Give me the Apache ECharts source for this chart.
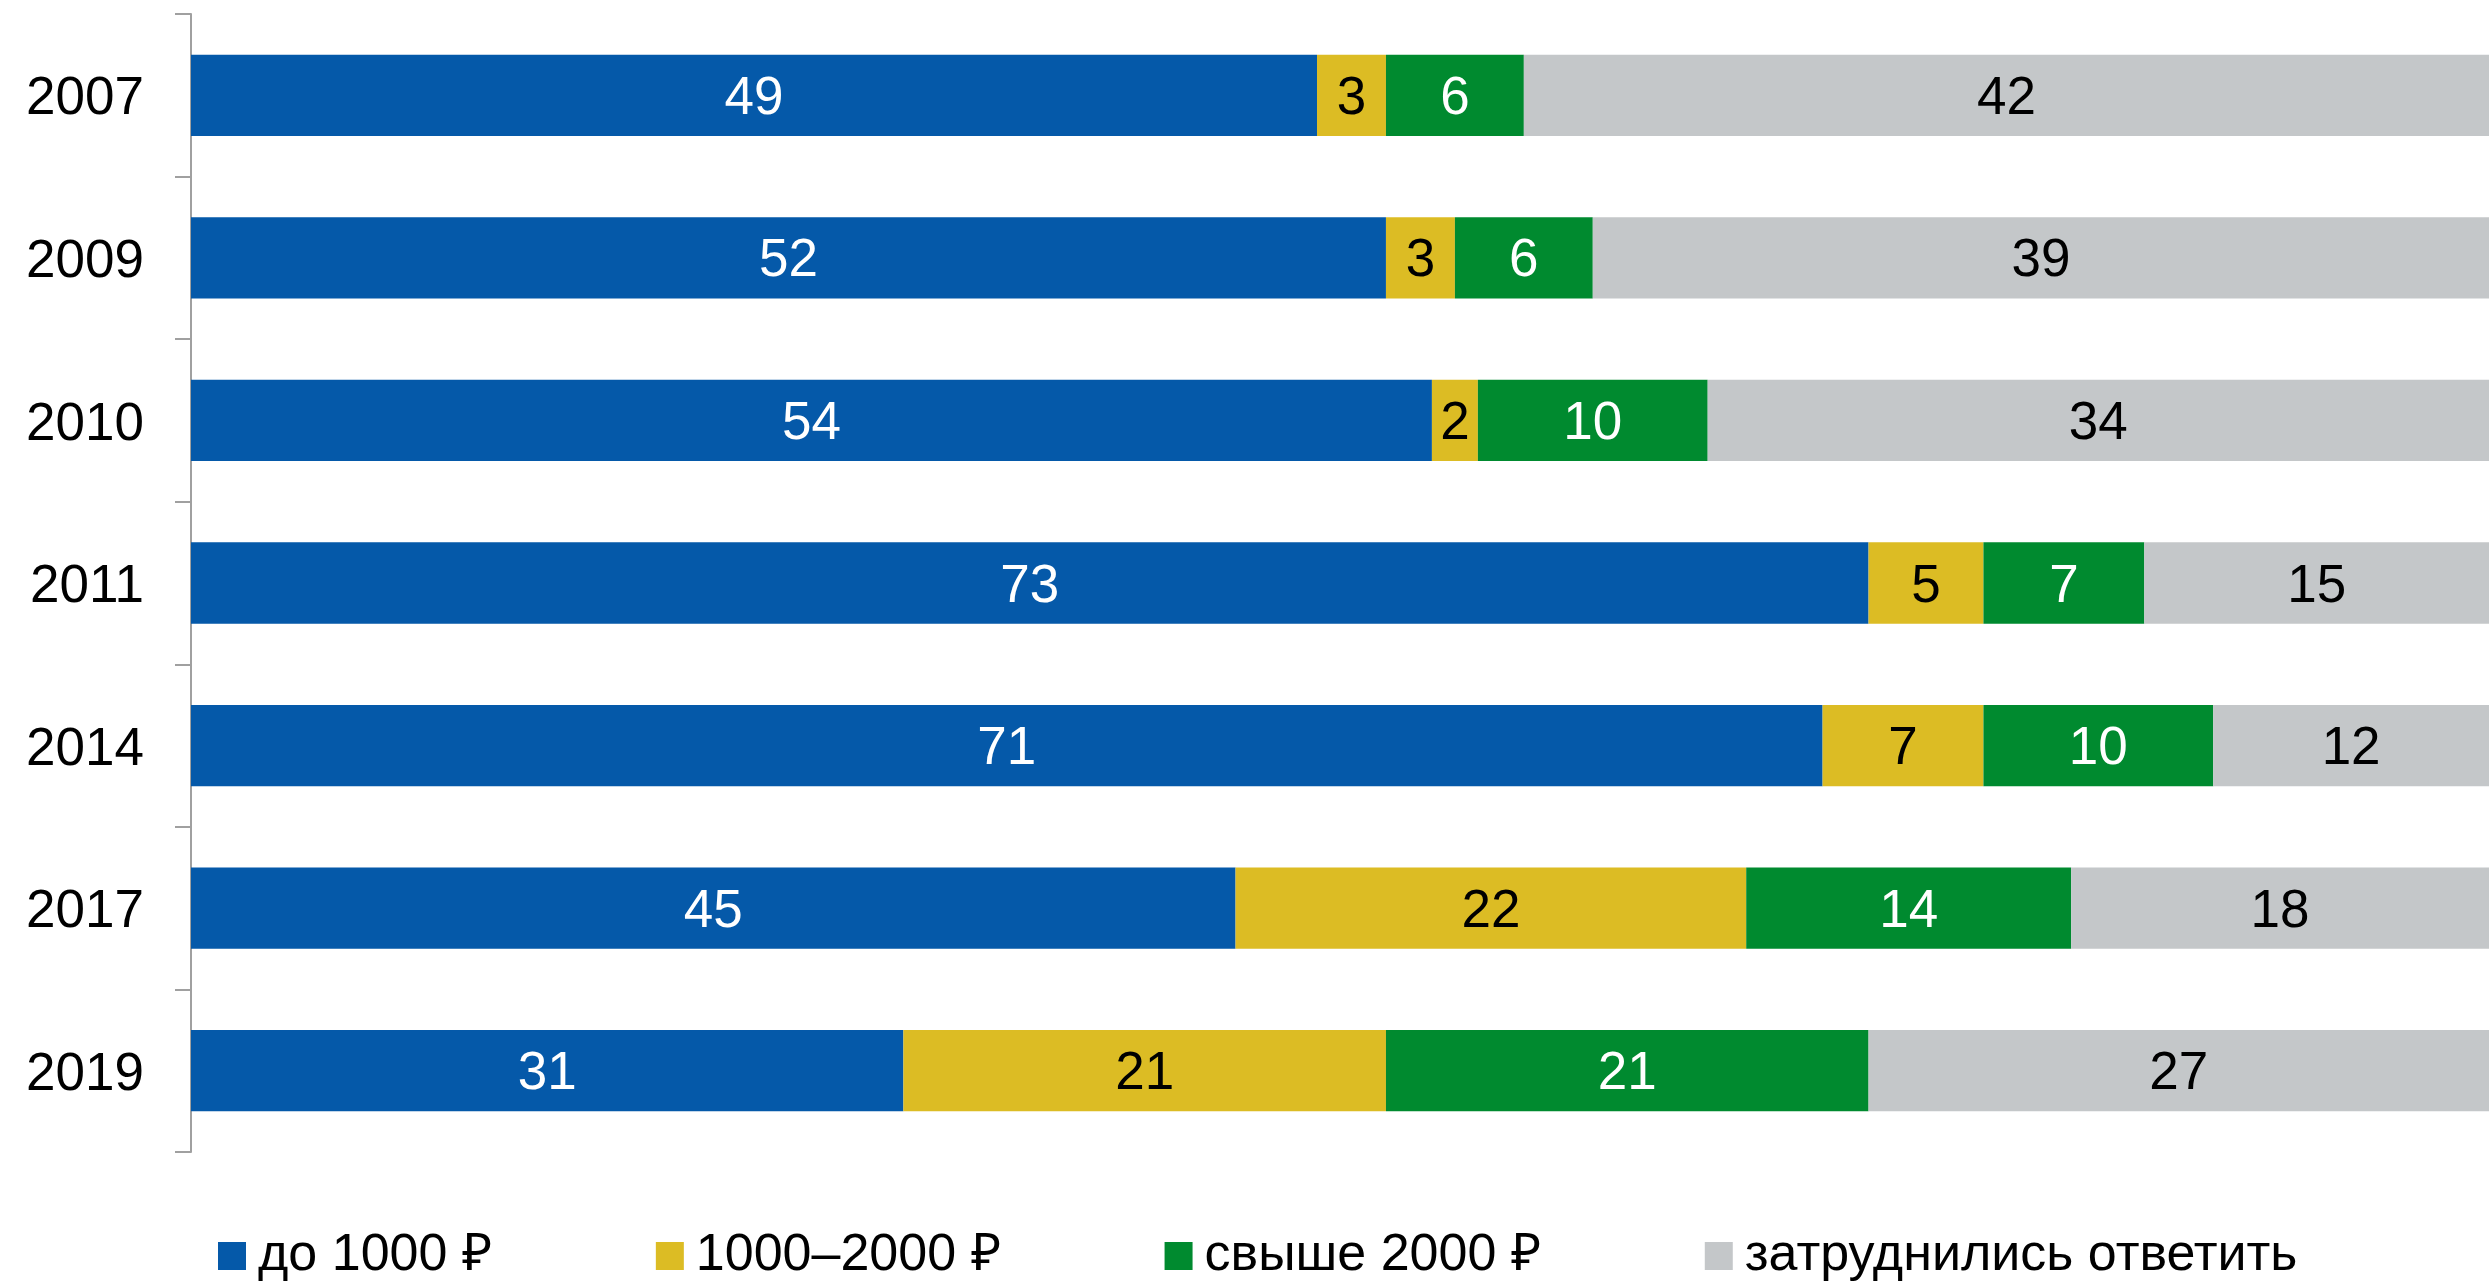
<!DOCTYPE html>
<html>
<head>
<meta charset="utf-8">
<script src="https://cdn.jsdelivr.net/npm/echarts@6/dist/echarts.min.js"></script>
<style>
html, body { margin: 0; padding: 0; background: #fff; }
#chart { width: 2489px; height: 1283px; }
</style>
</head>
<body>
<div id="chart"></div>
<script>
var years = ['2007', '2009', '2010', '2011', '2014', '2017', '2019'];
var seriesNames = ['до 1000 ₽', '1000–2000 ₽', 'свыше 2000 ₽', 'затруднились ответить'];
var below1000 = [49, 52, 54, 73, 71, 45, 31];
var from1000to2000 = [3, 3, 2, 5, 7, 22, 21];
var above2000 = [6, 6, 10, 7, 10, 14, 21];
var noAnswer = [42, 39, 34, 15, 12, 18, 27];

var colors = ['#0559a9', '#dcbc24', '#008a2f', '#c4c7c9'];
var labelColors = ['#ffffff', '#000000', '#ffffff', '#000000'];

function drawBars(id) {
	var raw = [below1000, from1000to2000, above2000, noAnswer];
	// bars are stretched to full width, so use each year's share
	var totals = years.map(function (y, i) {
		return raw[0][i] + raw[1][i] + raw[2][i] + raw[3][i];
	});
	var myChart = echarts.init(document.getElementById(id));
	var series = raw.map(function (arr, k) {
		return {
			name: seriesNames[k],
			type: 'bar',
			stack: 'total',
			barWidth: '50%',
			itemStyle: { color: colors[k] },
			label: {
				show: true,
				position: 'inside',
				offset: [0, 4],
				color: labelColors[k],
				fontSize: 53,
				fontFamily: 'Liberation Sans, Arial, sans-serif',
				formatter: function (p) { return arr[p.dataIndex]; }
			},
			data: arr.map(function (v, i) { return v / totals[i] * 100; })
		};
	});
	var option = {
		animation: false,
		color: colors,
		textStyle: { fontFamily: 'Liberation Sans, Arial, sans-serif' },
		legend: {
			data: seriesNames,
			left: 213,
			top: 1225,
			itemWidth: 28,
			itemHeight: 28,
			itemGap: 164,
			icon: 'rect',
			textStyle: {
				fontSize: 52,
				color: '#000',
				padding: [0, 0, 0, 7]
			}
		},
		grid: {
			left: 191,
			right: 0,
			top: 14,
			bottom: 131,
			containLabel: false
		},
		xAxis: {
			type: 'value',
			min: 0,
			max: 100,
			show: false
		},
		yAxis: {
			type: 'category',
			inverse: true,
			data: years,
			axisLine: { show: true, lineStyle: { color: '#a0a0a0', width: 2 } },
			axisTick: { show: true, length: 16, lineStyle: { color: '#a0a0a0', width: 2 } },
			axisLabel: {
				margin: 47,
				color: '#000',
				formatter: function (v) { return '{y|' + v + '}'; },
				rich: {
					y: { fontSize: 53, color: '#000', padding: [9, 0, 0, 0] }
				}
			}
		},
		series: series
	};
	myChart.setOption(option);
}

drawBars('chart');
</script>
</body>
</html>
